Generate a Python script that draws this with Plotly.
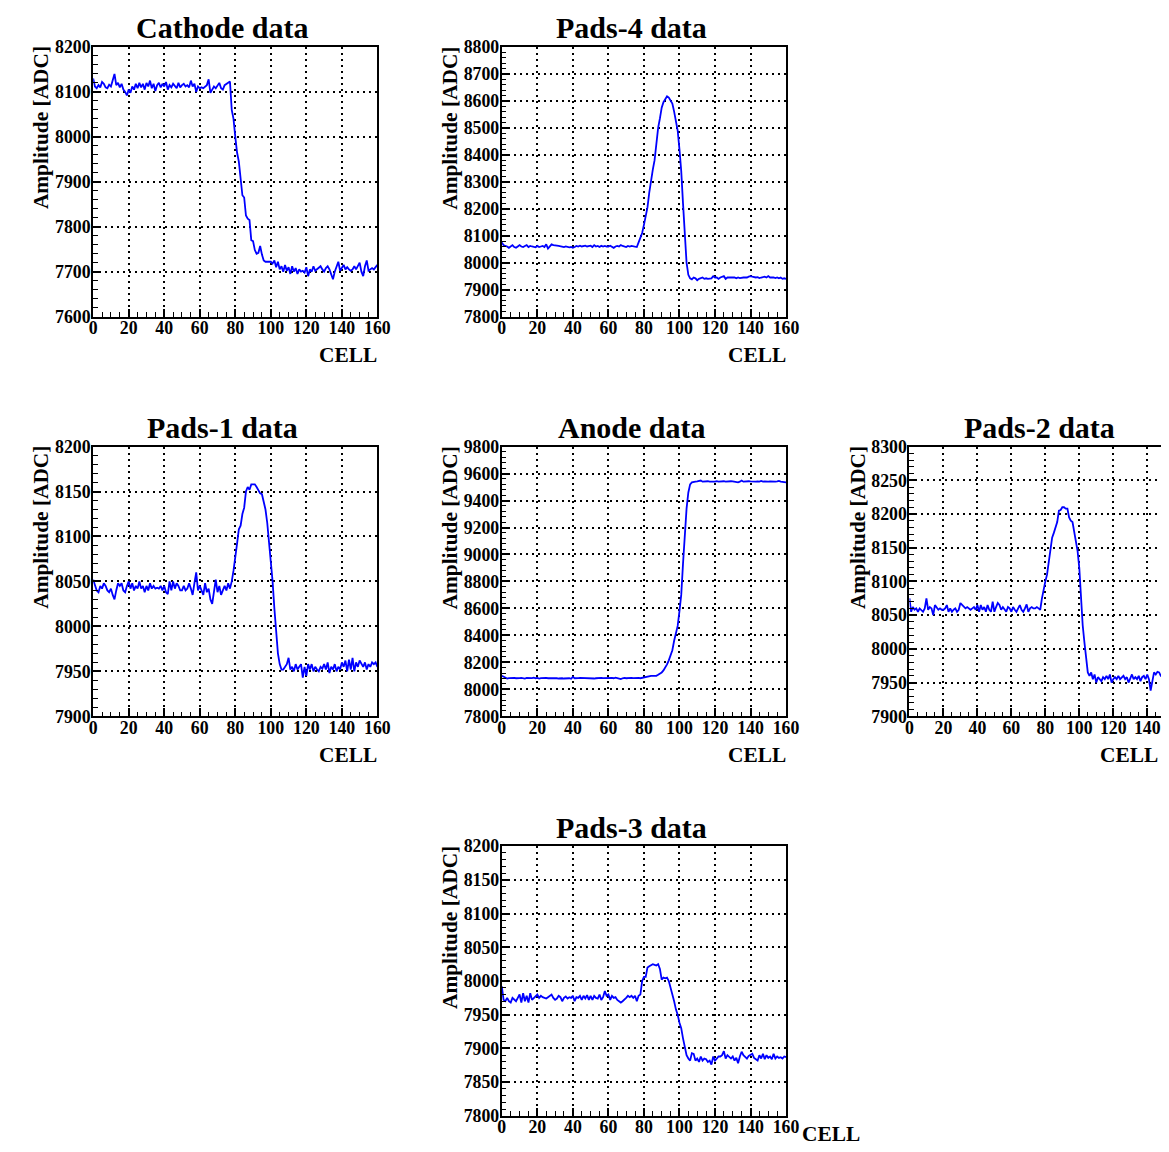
import plotly.graph_objects as go

# ---------------- data ----------------
cells = list(range(0, 161))

cathode = [8130, 8112, 8108, 8115, 8110, 8122, 8118, 8110, 8108, 8116,
           8112, 8125, 8140, 8115, 8120, 8110, 8118, 8105, 8100, 8092,
           8105, 8098, 8112, 8105, 8118, 8108, 8120, 8110, 8118, 8105,
           8120, 8112, 8125, 8108, 8118, 8102, 8115, 8120, 8110, 8118,
           8112, 8122, 8105, 8115, 8110, 8118, 8112, 8108, 8120, 8110,
           8115, 8118, 8112, 8115, 8110, 8125, 8112, 8118, 8100, 8112,
           8108, 8110, 8108, 8112, 8115, 8128, 8098, 8105, 8112, 8108,
           8115, 8120, 8108, 8105, 8115, 8118, 8120, 8123, 8060, 8040,
           8000, 7965, 7945, 7900, 7870, 7865, 7825, 7818, 7815, 7770,
           7768, 7748, 7740, 7742, 7757, 7738, 7725, 7722, 7722, 7722,
           7722, 7718, 7725, 7710, 7722, 7705, 7712, 7700, 7715, 7702,
           7710, 7695, 7712, 7700, 7708, 7695, 7705, 7700, 7702, 7698,
           7710, 7690, 7705, 7700, 7712, 7702, 7705, 7708, 7712, 7705,
           7700, 7708, 7712, 7705, 7695, 7683, 7700, 7712, 7722, 7702,
           7708, 7715, 7705, 7710, 7705, 7702, 7705, 7712, 7705, 7712,
           7720, 7700, 7690, 7712, 7725, 7702, 7705, 7708, 7705, 7710,
           7715]

pads4 = [8075, 8065, 8062, 8060, 8055, 8062, 8065, 8058, 8055, 8060,
         8065, 8060, 8058, 8062, 8065, 8058, 8062, 8060, 8058, 8057,
         8062, 8058, 8060, 8062, 8058, 8068, 8052, 8060, 8068, 8065,
         8065, 8063, 8062, 8060, 8060, 8058, 8060, 8058, 8057, 8058,
         8055, 8058, 8062, 8060, 8063, 8060, 8062, 8063, 8060, 8062,
         8063, 8058, 8065, 8060, 8062, 8058, 8063, 8060, 8062, 8060,
         8060, 8063, 8058, 8055, 8060, 8062, 8060, 8065, 8062, 8060,
         8058, 8062, 8060, 8062, 8060, 8060, 8058, 8075, 8090, 8110,
         8140, 8175, 8205, 8260, 8310, 8345, 8380, 8440, 8500, 8535,
         8575, 8595, 8605, 8617, 8612, 8600, 8590, 8560, 8520, 8490,
         8420, 8340, 8220, 8100, 8000, 7955, 7942, 7938, 7945, 7942,
         7935, 7940, 7942, 7945, 7940, 7942, 7940, 7940, 7942, 7950,
         7945, 7945, 7940, 7945, 7948, 7950, 7940, 7945, 7945, 7945,
         7943, 7945, 7942, 7945, 7943, 7945, 7945, 7945, 7945, 7948,
         7950, 7948, 7945, 7945, 7946, 7943, 7945, 7948, 7948, 7945,
         7950, 7945, 7946, 7945, 7943, 7945, 7942, 7945, 7940, 7942,
         7940]

pads1 = [8052, 8045, 8040, 8038, 8045, 8042, 8048, 8045, 8040, 8038,
         8042, 8035, 8030, 8040, 8048, 8045, 8048, 8040, 8038, 8045,
         8050, 8042, 8048, 8040, 8045, 8042, 8050, 8042, 8045, 8038,
         8045, 8040, 8048, 8042, 8045, 8042, 8043, 8042, 8045, 8040,
         8045, 8038, 8036, 8050, 8040, 8050, 8042, 8048, 8045, 8040,
         8040, 8045, 8040, 8042, 8048, 8042, 8035, 8048, 8060, 8040,
         8045, 8040, 8035, 8048, 8038, 8042, 8030, 8025, 8040, 8052,
         8038, 8045, 8035, 8040, 8045, 8040, 8048, 8042, 8050, 8062,
         8075, 8092, 8108, 8112, 8125, 8132, 8150, 8155, 8152, 8158,
         8158, 8158, 8155, 8152, 8148, 8147, 8140, 8130, 8115, 8095,
         8070, 8050, 8020, 7995, 7970, 7958, 7952, 7952, 7955, 7958,
         7965, 7952, 7955, 7950, 7958, 7952, 7955, 7958, 7943, 7955,
         7945, 7958, 7952, 7958, 7950, 7955, 7952, 7950, 7955, 7953,
         7958, 7952, 7960, 7948, 7955, 7952, 7958, 7950, 7955, 7952,
         7960, 7955, 7962, 7950, 7963, 7952, 7965, 7950, 7960, 7955,
         7962, 7958, 7955, 7960, 7952, 7958, 7955, 7960, 7958, 7960,
         7955]

anode = [8100, 8092, 8085, 8080, 8083, 8085, 8082, 8084, 8082, 8085,
         8083, 8085, 8082, 8080, 8084, 8082, 8085, 8083, 8086, 8082,
         8084, 8080, 8083, 8085, 8082, 8084, 8082, 8080, 8083, 8082,
         8084, 8082, 8080, 8083, 8082, 8080, 8082, 8084, 8082, 8078,
         8092, 8082, 8085, 8083, 8085, 8084, 8086, 8083, 8085, 8082,
         8084, 8082, 8080, 8082, 8084, 8082, 8085, 8083, 8084, 8082,
         8085, 8083, 8085, 8082, 8086, 8083, 8080, 8076, 8082, 8085,
         8082, 8084, 8082, 8085, 8083, 8085, 8082, 8084, 8082, 8085,
         8090, 8095, 8098, 8098, 8100, 8100, 8102, 8100, 8108, 8115,
         8125, 8140, 8160, 8185, 8215, 8255, 8290, 8360, 8410, 8470,
         8580, 8700, 8930, 9150, 9340, 9460, 9520, 9535, 9540, 9540,
         9542, 9545, 9548, 9540, 9542, 9540, 9543, 9540, 9542, 9540,
         9540, 9543, 9540, 9542, 9545, 9543, 9540, 9542, 9540, 9543,
         9542, 9540, 9538, 9535, 9540, 9548, 9540, 9542, 9540, 9543,
         9542, 9540, 9543, 9540, 9542, 9540, 9545, 9540, 9542, 9540,
         9540, 9542, 9540, 9543, 9540, 9542, 9545, 9540, 9538, 9540,
         9535]

pads2 = [8075, 8055, 8062, 8058, 8060, 8055, 8060, 8058, 8055, 8060,
         8075, 8058, 8062, 8060, 8050, 8065, 8062, 8058, 8060, 8058,
         8058, 8060, 8065, 8055, 8060, 8055, 8058, 8060, 8055, 8058,
         8068, 8065, 8063, 8060, 8062, 8060, 8058, 8060, 8062, 8058,
         8065, 8055, 8065, 8058, 8062, 8055, 8065, 8058, 8055, 8070,
         8055, 8062, 8068, 8065, 8058, 8062, 8058, 8055, 8062, 8060,
         8055, 8062, 8058, 8055, 8060, 8065, 8058, 8055, 8060, 8066,
         8055, 8060, 8062, 8060, 8060, 8062, 8060, 8058, 8075, 8090,
         8100, 8110, 8130, 8150, 8165, 8172, 8180, 8188, 8205, 8206,
         8210, 8210, 8208, 8208, 8195, 8190, 8188, 8175, 8160, 8145,
         8120, 8070, 8035, 8010, 7985, 7965, 7960, 7965, 7955, 7962,
         7950, 7958, 7955, 7952, 7958, 7955, 7960, 7955, 7962, 7950,
         7955, 7958, 7955, 7960, 7955, 7958, 7960, 7955, 7958, 7950,
         7955, 7962, 7955, 7958, 7955, 7960, 7952, 7958, 7960, 7955,
         7962, 7955, 7938, 7955, 7965, 7962, 7966, 7965, 7960, 7958,
         7955, 7958, 7956, 7960, 7955, 7958, 7956, 7960, 7957, 7958,
         7958]

pads3 = [7992, 7972, 7970, 7975, 7970, 7968, 7975, 7972, 7970, 7975,
         7980, 7968, 7982, 7970, 7978, 7968, 7982, 7972, 7975, 7978,
         7980, 7975, 7978, 7976, 7975, 7974, 7976, 7978, 7980, 7975,
         7972, 7974, 7978, 7976, 7970, 7975, 7977, 7974, 7976, 7975,
         7978, 7970, 7976, 7975, 7978, 7972, 7978, 7974, 7979, 7972,
         7978, 7972, 7978, 7975, 7974, 7980, 7972, 7976, 7985, 7978,
         7980, 7972, 7978, 7975, 7976, 7972, 7970, 7968, 7970, 7972,
         7975, 7978, 7976, 7978, 7975, 7978, 7970, 7978, 7980, 8000,
         8006, 8006, 8020, 8022, 8024, 8025, 8024, 8023, 8025, 8018,
         8002, 8005, 8004, 8005, 8000, 7990, 7984, 7970, 7958, 7950,
         7938, 7930, 7915, 7900, 7890, 7885, 7882, 7893, 7892, 7882,
         7885, 7880, 7888, 7882, 7885, 7884, 7880, 7882, 7876, 7888,
         7882, 7885, 7888, 7888, 7890, 7896, 7885, 7890, 7888, 7885,
         7888, 7882, 7886, 7878, 7888, 7895, 7890, 7888, 7885, 7889,
         7890, 7892, 7886, 7884, 7882, 7890, 7885, 7892, 7884, 7890,
         7886, 7888, 7884, 7892, 7885, 7888, 7886, 7887, 7885, 7888,
         7887]

titles = ["Cathode data", "Pads-4 data", "Pads-1 data", "Anode data", "Pads-2 data", "Pads-3 data"]
series = [cathode, pads4, pads1, anode, pads2, pads3]
y_ranges = [(7600, 8200), (7800, 8800), (7900, 8200), (7800, 9800), (7900, 8300), (7800, 8200)]
y_dticks = [100, 100, 50, 200, 50, 50]
x_title = "CELL"
y_title = "Amplitude [ADC]"

# ---------------- layout geometry ----------------
# target positions are in picture pixels; fx/fy convert them to figure pixels
W, H = 1166, 1154
AX, AY = 0.9846, 0.982
BX, BY = 11.6, 18.4
S = 0.983

col_left = [92.7, 501.0, 908.3]
row_top = [47.3, 446.7, 846.0]
PW, PH = 284.0, 269.5
grid_pos = [(0, 0), (1, 0), (0, 1), (1, 1), (2, 1), (1, 2)]
title_cx = [222.0, 631.0, 1038.5]

def fx(x):
    return (x - BX) / AX

def fy(y):
    return (y - BY) / AY

def px(x):
    return fx(x) / W

def py(y):
    return 1 - fy(y) / H

def fs(v):
    return v / S

SERIF = "Liberation Serif"
fig = go.Figure()
annotations = []

for i, (name, vals) in enumerate(zip(titles, series)):
    c, r = grid_pos[i]
    x0p, y0p = col_left[c], row_top[r]
    x1p, y1p = x0p + PW, y0p + PH
    xr = [0, 160]
    xd0, xd1 = px(x0p), px(x1p)
    cropped = xd1 > 1
    if cropped:
        # panel runs past the right edge of the canvas: crop it there,
        # keeping the last tick label (140) inside the picture
        xd1 = 1.0
        xr = [0, 148.1]
    k = "" if i == 0 else str(i + 1)
    fig.add_trace(go.Scatter(x=cells, y=vals, mode="lines",
                             line=dict(color="#0000ff", width=1.8),
                             xaxis="x" + k, yaxis="y" + k, showlegend=False,
                             hoverinfo="skip"))
    common = dict(showline=True, linecolor="black", linewidth=2, mirror=True,
                  ticks="inside", ticklen=8, tickwidth=1.5, tickcolor="black",
                  showgrid=True, gridcolor="black", gridwidth=1.8, griddash="2px,4px",
                  zeroline=False,
                  tickfont=dict(family=SERIF, size=fs(17.5), color="black", weight="bold"))
    fig.layout["xaxis" + k] = dict(domain=[xd0, xd1], range=xr, tick0=0, dtick=20,
                                   anchor="y" + k, ticklabelstandoff=-6,
                                   minor=dict(ticks="inside", ticklen=4.5, dtick=5, tick0=0,
                                              tickcolor="black", tickwidth=1.3, showgrid=False),
                                   **common)
    lo, hi = y_ranges[i]
    fig.layout["yaxis" + k] = dict(domain=[py(y1p), py(y0p)], range=[lo, hi], tick0=lo,
                                   dtick=y_dticks[i], anchor="x" + k, tickformat="d",
                                   ticklabelstandoff=-3,
                                   minor=dict(ticks="inside", ticklen=4.5, dtick=y_dticks[i] / 5,
                                              tick0=lo, tickcolor="black", tickwidth=1.3,
                                              showgrid=False),
                                   **common)
    # panel title
    annotations.append(dict(text=name, xref="paper", yref="paper", showarrow=False,
                            x=px(title_cx[c]), y=py(y0p - 10 - 0.3 * 30),
                            xanchor="center", yanchor="middle",
                            font=dict(family=SERIF, size=fs(29.5), color="black", weight="bold")))
    # x-axis title, right aligned to the frame
    if cropped:
        cx, cy, anchor = 1 - 1 / W, py(y1p + 45 - 0.3 * 21), "right"
    elif r == 2:
        # bottom row: the title would fall below the canvas, keep it visible
        cx, cy, anchor = px(x1p + 14), py(y1p + 18), "left"
    else:
        cx, cy, anchor = px(x1p + 2), py(y1p + 45 - 0.3 * 21), "right"
    annotations.append(dict(text=x_title, xref="paper", yref="paper", showarrow=False,
                            x=cx, y=cy, xanchor=anchor, yanchor="middle",
                            font=dict(family=SERIF, size=fs(21), color="black", weight="bold")))
    # y-axis title, aligned to the top of the frame
    annotations.append(dict(text=y_title, xref="paper", yref="paper", showarrow=False,
                            x=px(x0p - 52), y=py(y0p + 81), textangle=-90,
                            xanchor="center", yanchor="middle",
                            font=dict(family=SERIF, size=fs(21), color="black", weight="bold")))

fig.update_layout(width=W, height=H, margin=dict(l=0, r=0, t=0, b=0),
                  paper_bgcolor="white", plot_bgcolor="white",
                  annotations=annotations, showlegend=False)

fig.write_html("out.html")
